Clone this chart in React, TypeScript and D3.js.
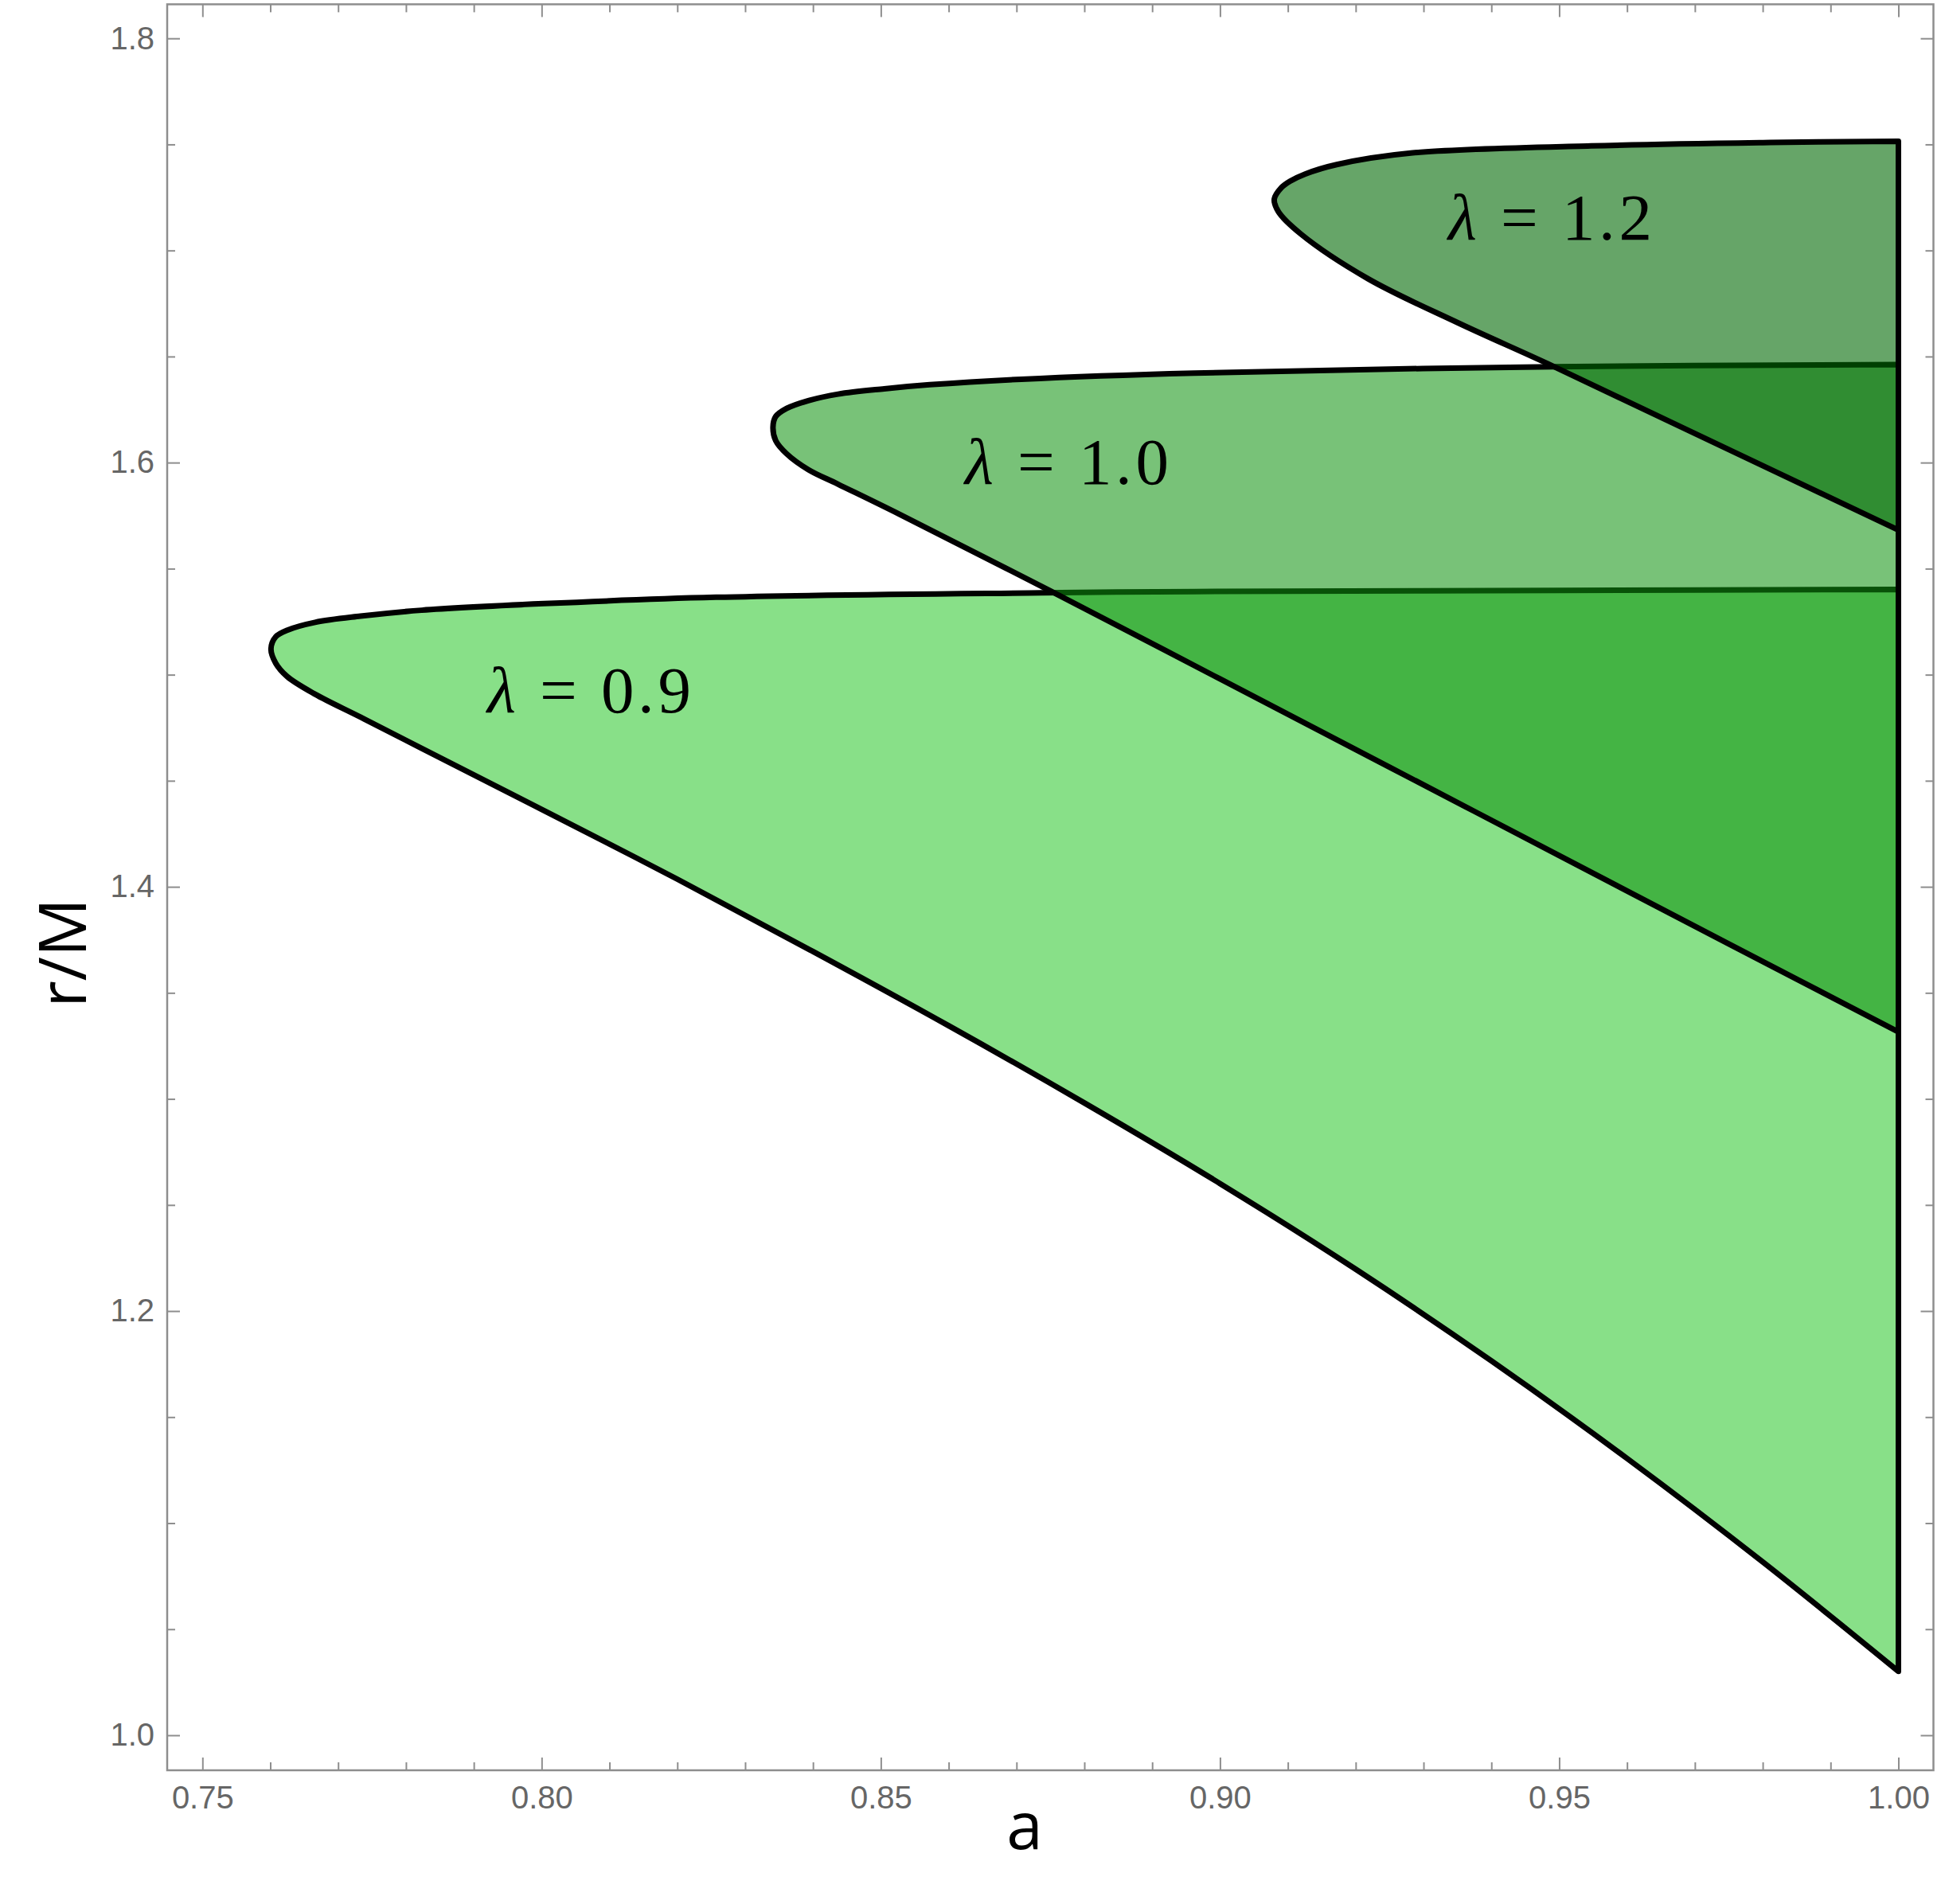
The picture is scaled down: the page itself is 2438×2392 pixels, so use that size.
import React, { useEffect, useRef } from "react";
import * as d3 from "d3";

// tick labels
const aTickValues = [0.75, 0.8, 0.85, 0.9, 0.95, 1.0];
const aTickLabels = ["0.75", "0.80", "0.85", "0.90", "0.95", "1.00"];
const rTickValues = [1.0, 1.2, 1.4, 1.6, 1.8];
const rTickLabels = ["1.0", "1.2", "1.4", "1.6", "1.8"];

// region boundaries, [a, r/M] (tip first, going right)
const upper09 = [
  [0.7601, 1.5122], [0.7608, 1.5179], [0.7625, 1.521], [0.7666, 1.5247], [0.7733, 1.5276],
  [0.7823, 1.5304], [0.8003, 1.5335], [0.8257, 1.5365], [0.8738, 1.5386], [0.8962, 1.5392],
  [0.95, 1.5397], [1.0, 1.5402],
];
const lower09 = [
  [0.7608, 1.5054], [0.7625, 1.4991], [0.7666, 1.4908], [0.7733, 1.48], [0.7823, 1.4653],
  [0.8, 1.4365], [0.82, 1.4036], [0.84, 1.3695], [0.86, 1.3345], [0.88, 1.2981],
  [0.9, 1.2601], [0.92, 1.2197], [0.94, 1.1765], [0.96, 1.1305], [0.98, 1.0817], [1.0, 1.0301],
];
const upper10 = [
  [0.8341, 1.6167], [0.8345, 1.6217], [0.8361, 1.6255], [0.8393, 1.6292], [0.8437, 1.6323],
  [0.8505, 1.6348], [0.8572, 1.6367], [0.8707, 1.6393], [0.8962, 1.6422], [0.949, 1.6452],
  [1.0, 1.6462],
];
const lower10 = [
  [0.8345, 1.6104], [0.8361, 1.6042], [0.8393, 1.5967], [0.8437, 1.5898], [0.8527, 1.5757],
  [0.875, 1.5395], [0.9, 1.498], [0.925, 1.4564], [0.95, 1.4147], [0.975, 1.3731], [1.0, 1.3316],
];
const upper12 = [
  [0.908, 1.7243], [0.909, 1.7295], [0.9103, 1.7326], [0.9126, 1.7361], [0.9172, 1.7405],
  [0.9284, 1.746], [0.9547, 1.7493], [0.9811, 1.7509], [1.0, 1.7515],
];
const lower12 = [
  [0.9086, 1.7183], [0.9119, 1.7078], [0.9218, 1.6867], [0.935, 1.666], [0.9488, 1.6459],
  [0.9679, 1.6169], [1.0, 1.5682],
];

const lambdaLabels = ["0.9", "1.0", "1.2"];

const W = 2438;
const H = 2392;
const frame = { left: 210, right: 2428.5, top: 5.4, bottom: 2224 };

function App() {
  const ref = useRef(null);

  useEffect(() => {
    const svg = d3.select(ref.current);
    svg.selectAll("*").remove();

    const x = d3.scaleLinear().domain([0.75, 1.0]).range([254.3, 2384.5]);
    const y = d3.scaleLinear().domain([1.0, 1.8]).range([2180, 48.2]);

    svg.append("rect").attr("width", W).attr("height", H).attr("fill", "white");

    const regions = [
      { upper: upper09, lower: lower09, fill: "#88e088", opacity: 1 },
      { upper: upper10, lower: lower10, fill: "rgb(14,146,14)", opacity: 0.56 },
      { upper: upper12, lower: lower12, fill: "rgb(0,105,3)", opacity: 0.6 },
    ];

    const line = d3.line()
      .x((d) => x(d[0]))
      .y((d) => y(d[1]))
      .curve(d3.curveCatmullRom.alpha(0.5));

    regions.forEach((reg) => {
      // lower edge right-to-left, round the tip, upper edge back to a = 1
      const outline = [...reg.lower.slice().reverse(), ...reg.upper];
      svg.append("path")
        .attr("d", line(outline) + "Z")
        .attr("fill", reg.fill)
        .attr("fill-opacity", reg.opacity)
        .attr("stroke", "#000")
        .attr("stroke-width", 7)
        .attr("stroke-linejoin", "round");
    });

    // labels
    const labelPos = [[612, 895], [1212, 608], [1819, 301]];
    lambdaLabels.forEach((lab, i) => {
      const t = svg.append("text")
        .attr("x", labelPos[i][0])
        .attr("y", labelPos[i][1])
        .attr("font-family", "'Liberation Serif', 'DejaVu Serif', serif")
        .attr("font-size", 83)
        .attr("fill", "#000")
        .attr("textLength", 256)
        .attr("lengthAdjust", "spacing");
      t.append("tspan").attr("font-style", "italic").text("λ");
      t.append("tspan").text(" = " + lab);
    });

    // frame
    svg.append("rect")
      .attr("x", frame.left).attr("y", frame.top)
      .attr("width", frame.right - frame.left)
      .attr("height", frame.bottom - frame.top)
      .attr("fill", "none")
      .attr("stroke", "#8e8e8e")
      .attr("stroke-width", 2.5);

    const aMinor = d3.range(75, 101).map((v) => v / 100).filter((v) => Math.round(v * 100) % 5 !== 0);
    const rMinor = d3.range(20, 37).map((v) => v / 20).filter((v) => Math.round(v * 20) % 4 !== 0);

    const styleAxis = (g) => {
      g.select(".domain").remove();
      g.selectAll(".tick line").attr("stroke", "#8e8e8e").attr("stroke-width", 2);
      g.selectAll(".tick text")
        .attr("fill", "#666")
        .attr("font-family", "'Liberation Sans', Arial, sans-serif")
        .attr("font-size", 40);
    };

    const addAxis = (axis, tx, ty) => {
      svg.append("g").attr("transform", `translate(${tx},${ty})`).call(axis).call(styleAxis);
    };

    addAxis(d3.axisBottom(x).tickValues(aTickValues).tickFormat((d, i) => aTickLabels[i]).tickSize(-16).tickPadding(20), 0, frame.bottom);
    addAxis(d3.axisBottom(x).tickValues(aMinor).tickFormat(() => "").tickSize(-10), 0, frame.bottom);
    addAxis(d3.axisTop(x).tickValues(aTickValues).tickFormat(() => "").tickSize(-16), 0, frame.top);
    addAxis(d3.axisTop(x).tickValues(aMinor).tickFormat(() => "").tickSize(-10), 0, frame.top);
    addAxis(d3.axisLeft(y).tickValues(rTickValues).tickFormat((d, i) => rTickLabels[i]).tickSize(-16).tickPadding(16), frame.left, 0);
    addAxis(d3.axisLeft(y).tickValues(rMinor).tickFormat(() => "").tickSize(-10), frame.left, 0);
    addAxis(d3.axisRight(y).tickValues(rTickValues).tickFormat(() => "").tickSize(-16), frame.right, 0);
    addAxis(d3.axisRight(y).tickValues(rMinor).tickFormat(() => "").tickSize(-10), frame.right, 0);

    // axis titles
    svg.append("text")
      .attr("x", 1287)
      .attr("y", 2323)
      .attr("text-anchor", "middle")
      .attr("font-family", "'Open Sans', sans-serif")
      .attr("font-size", 82)
      .attr("fill", "#000")
      .text("a");

    svg.append("text")
      .attr("transform", "translate(108,1197) rotate(-90)")
      .attr("text-anchor", "middle")
      .attr("font-family", "'Open Sans', sans-serif")
      .attr("font-size", 82)
      .attr("fill", "#000")
      .text("r/M");
  }, []);

  return (
    <svg
      ref={ref}
      width={W}
      height={H}
      style={{ position: "absolute", left: 0, top: 0, display: "block" }}
    />
  );
}

export default App;
